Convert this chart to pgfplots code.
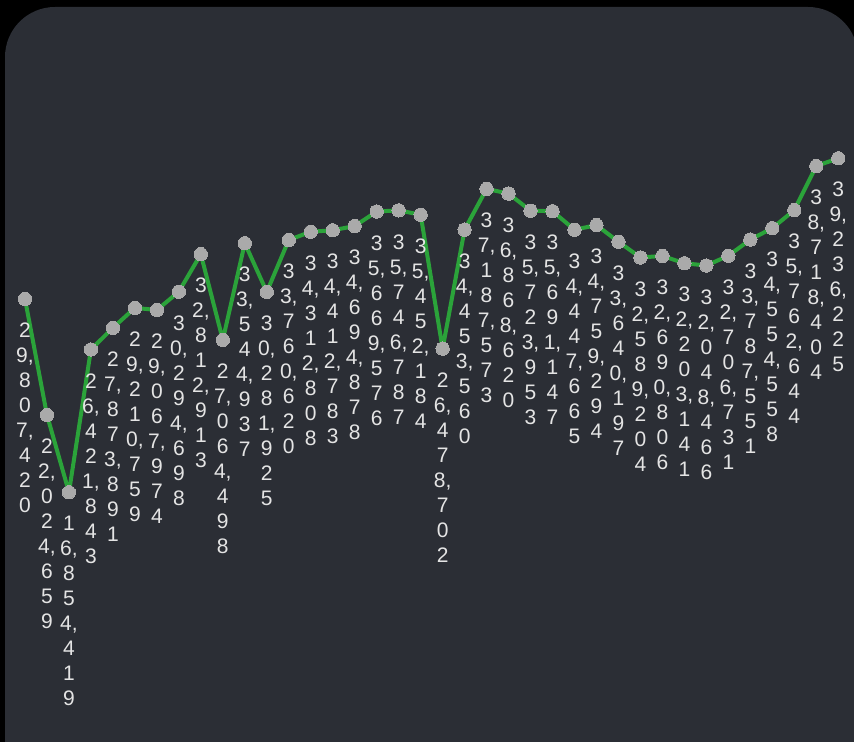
\documentclass[border=0pt]{standalone}
\usepackage{fontspec}
\setmainfont{Liberation Sans}
\usepackage{pgfplots}
\usepackage{pgfplotstable}
\pgfplotsset{compat=1.18}
\definecolor{bgpanel}{RGB}{43,46,53}
\definecolor{linegreen}{RGB}{43,163,58}
\definecolor{mk}{RGB}{170,170,170}
\definecolor{lab}{RGB}{228,228,228}
\def\vlab#1#2#3#4#5#6#7#8{#1\\#2,\\#3\\#4\\#5,\\#6\\#7\\#8}
\pgfplotstableread{
x y
0 29807420
1 22024659
2 16854419
3 26421843
4 27873891
5 29210759
6 29067974
7 30294698
8 32812913
9 27064498
10 33544937
11 30281925
12 33760620
13 34312808
14 34412783
15 34694878
16 35669576
17 35746787
18 35452184
19 26478702
20 34453560
21 37187573
22 36868620
23 35723953
24 35691147
25 34447665
26 34759294
27 33640197
28 32589204
29 32690806
30 32203141
31 32048466
32 32706731
33 33787551
34 34554558
35 35762644
36 38718404
37 39236225
}\datatable
\begin{document}
\begin{tikzpicture}[x=0.75pt,y=0.75pt]
\useasboundingbox (0,0) rectangle (854,742);
\fill[black] (0,0) rectangle (854,742);
\fill[bgpanel, rounded corners=37.5pt] (5,-80) rectangle (858,735);
\begin{axis}[at={(0,0)}, anchor=south west, scale only axis,
  width=640.5pt, height=556.5pt, hide axis,
  xmin=-1.1374, xmax=37.716, ymin=115000, ymax=49847000, clip=false]
\addplot[linegreen, line width=3pt, line join=round,
  mark=*, mark size=5pt, mark options={fill=mk, draw=mk, line width=0pt},
  point meta=explicit symbolic,
  nodes near coords={\expandafter\vlab\pgfplotspointmeta},
  nodes near coords style={anchor=north, yshift=-18pt, align=center,
    font=\fontsize{15.75}{18.75}\selectfont, text=lab, inner sep=0pt}]
  table[x=x, y=y, meta=y] {\datatable};
\end{axis}
\end{tikzpicture}
\end{document}
